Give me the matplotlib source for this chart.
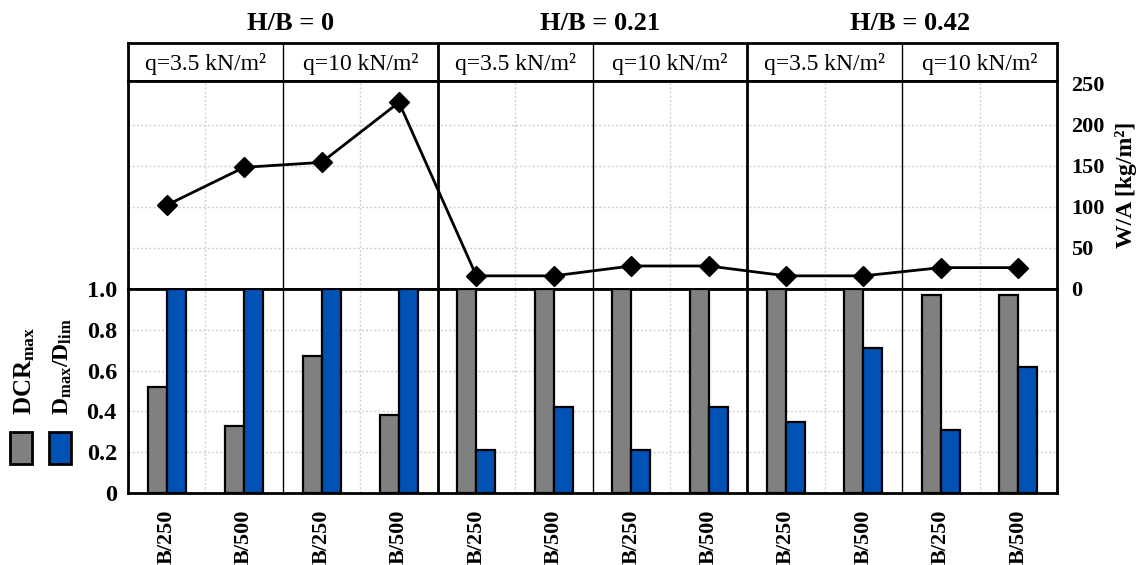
import matplotlib
matplotlib.use("Agg")
import matplotlib.pyplot as plt
from matplotlib.patches import Rectangle
import numpy as np

# ---- data ----
hb_groups = ["H/B = 0", "H/B = 0.21", "H/B = 0.42"]
load_cases = ["q=3.5 kN/m²", "q=10 kN/m²"]
drift_limits = ["B/250", "B/500"] * 6
dcr_max = [0.52, 0.33, 0.67, 0.38, 1.0, 1.0, 1.0, 1.0, 1.0, 1.0, 0.97, 0.97]
d_ratio = [1.0, 1.0, 1.0, 1.0, 0.21, 0.42, 0.21, 0.42, 0.35, 0.71, 0.31, 0.62]
weight_per_area = [102, 148, 154, 227, 16, 16, 28, 28, 16, 16, 26, 26]
bar_ticks = [0, 0.2, 0.4, 0.6, 0.8, 1.0]
bar_ticklabels = ["0", "0.2", "0.4", "0.6", "0.8", "1.0"]
wa_ticks = [0, 50, 100, 150, 200, 250]

GRAY = "#808080"
BLUE = "#0052b4"
SERIF = ["Liberation Serif", "DejaVu Serif"]

plt.rcParams["font.family"] = SERIF
plt.rcParams["mathtext.fontset"] = "custom"
plt.rcParams["mathtext.rm"] = "Liberation Serif"
plt.rcParams["mathtext.bf"] = "Liberation Serif:bold"
plt.rcParams["mathtext.it"] = "Liberation Serif:italic"

W, H = 1143, 565
fig = plt.figure(figsize=(W / 100, H / 100), dpi=100)


def box(x0, y0, x1, y1):
    """Axes rectangle from pixel edges measured from the top-left corner."""
    return [x0 / W, 1 - y1 / H, (x1 - x0) / W, (y1 - y0) / H]


X0, X1 = 128, 1057
ax_head = fig.add_axes(box(X0, 43, X1, 81))
ax_line = fig.add_axes(box(X0, 81, X1, 289))
ax_bar = fig.add_axes(box(X0, 289, X1, 493))

n = len(dcr_max)
x = np.arange(n)
xlim = (-0.5, n - 0.5)
THICK, THIN = 2.0, 1.0

for ax in (ax_head, ax_line, ax_bar):
    ax.set_xlim(*xlim)
    for s in ax.spines.values():
        s.set_linewidth(THICK)
    ax.tick_params(length=0)
    # separators between load cases (thin) and H/B groups (thick)
    for xs in (1.5, 5.5, 9.5):
        ax.axvline(xs, color="black", lw=THIN, zorder=4)
    for xs in (3.5, 7.5):
        ax.axvline(xs, color="black", lw=THICK, zorder=4)

# ---- header row with load cases ----
ax_head.set_ylim(0, 1)
ax_head.set_xticks([])
ax_head.set_yticks([])
for g in range(3):
    for j, lab in enumerate(load_cases):
        ax_head.text(4 * g + 2 * j + 0.5, 0.45, lab, ha="center", va="center",
                     fontsize=17, family=SERIF)
    ax_head.text(4 * g + 1.6, 1.0 + 19 / 38, hb_groups[g], ha="center",
                 va="center", fontsize=19, fontweight="bold", family=SERIF,
                 clip_on=False)

grid_kw = dict(color="#cfcfcf", lw=1.0, ls=(0, (1.5, 1.5)), zorder=0)
vgrid = [0.5, 2.5, 4.5, 6.5, 8.5, 10.5]

# ---- weight per area (line) ----
ax_line.set_ylim(0, 253)
ax_line.set_xticks([])
for yv in wa_ticks[1:-1]:
    ax_line.axhline(yv, **grid_kw)
for xv in vgrid:
    ax_line.axvline(xv, **grid_kw)
ax_line.plot(x, weight_per_area, color="black", lw=2.0, marker="D",
             ms=10.5, zorder=5)
ax_line.yaxis.tick_right()
ax_line.set_yticks(wa_ticks)
ax_line.set_yticklabels([str(t) for t in wa_ticks], fontsize=16,
                        fontweight="bold")
ax_line.tick_params(axis="y", pad=10)
ax_line.yaxis.set_label_position("right")
ax_line.set_ylabel("W/A [kg/m²]", fontsize=17, fontweight="bold", labelpad=8)

# ---- DCR and drift ratio (bars) ----
ax_bar.set_ylim(0, 1.0)
for yv in bar_ticks[1:-1]:
    ax_bar.axhline(yv, **grid_kw)
for xv in vgrid:
    ax_bar.axvline(xv, **grid_kw)
bw = 0.245
ax_bar.bar(x - bw / 2, dcr_max, width=bw, color=GRAY, edgecolor="black",
           lw=1.6, zorder=3)
ax_bar.bar(x + bw / 2, d_ratio, width=bw, color=BLUE, edgecolor="black",
           lw=1.6, zorder=3)
ax_bar.set_yticks(bar_ticks)
ax_bar.set_yticklabels(bar_ticklabels, fontsize=17.5, fontweight="bold")
ax_bar.tick_params(axis="y", pad=8)
ax_bar.set_xticks(x)
ax_bar.set_xticklabels(drift_limits, rotation=90, fontsize=16,
                       fontweight="bold")
ax_bar.tick_params(axis="x", pad=12)

# ---- legend at the left ----
fig.text(25 / W, 1 - 415 / H, r"$\mathbf{DCR_{max}}$", rotation=90,
         ha="center", va="bottom", fontsize=18)
fig.text(63 / W, 1 - 415 / H, r"$\mathbf{D_{max}/D_{lim}}$", rotation=90,
         ha="center", va="bottom", fontsize=17)
for x0, col in ((10, GRAY), (49, BLUE)):
    fig.add_artist(Rectangle((x0 / W, 1 - 464 / H), 22 / W, 32 / H,
                             transform=fig.transFigure, facecolor=col,
                             edgecolor="black", lw=2.0))

fig.savefig("out.png", dpi=100)
